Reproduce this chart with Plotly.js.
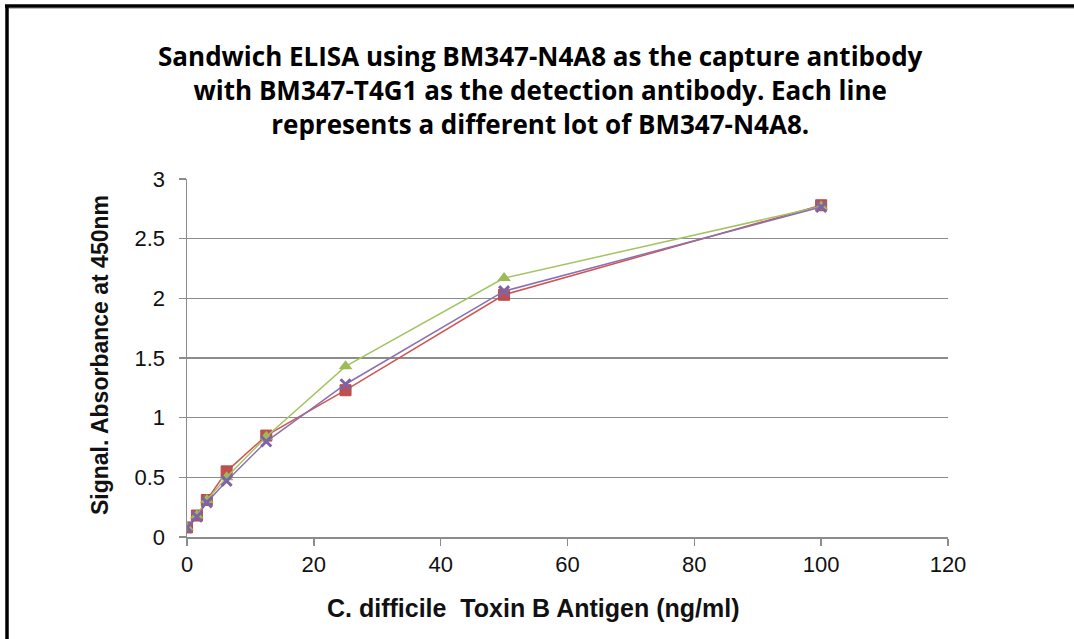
<!DOCTYPE html>
<html>
<head>
<meta charset="utf-8">
<script src="https://cdn.plot.ly/plotly-3.0.1.min.js"></script>
<style>html,body{margin:0;padding:0;background:#fff;}#chart{width:1074px;height:639px;}</style>
</head>
<body>
<div id="chart"></div>
<script>
const concentrations = [0, 1.5625, 3.125, 6.25, 12.5, 25, 50, 100];
const lotA = [0.08, 0.18, 0.31, 0.55, 0.85, 1.23, 2.03, 2.78];
const lotB = [0.08, 0.18, 0.31, 0.50, 0.84, 1.43, 2.17, 2.77];
const lotC = [0.08, 0.17, 0.29, 0.47, 0.80, 1.28, 2.06, 2.765];
const seriesNames = ["Lot 1", "Lot 2", "Lot 3"];
const xTicks = [0, 20, 40, 60, 80, 100, 120];
const yTicks = [0, 0.5, 1, 1.5, 2, 2.5, 3];

const traces = [
  {x: concentrations, y: lotA, name: seriesNames[0], mode: 'lines+markers',
   line: {color: '#D05552', width: 1.5},
   marker: {symbol: 'square', size: 11, color: '#C0504D', line: {color: '#B84A47', width: 1}}},
  {x: concentrations, y: lotB, name: seriesNames[1], mode: 'lines+markers',
   line: {color: '#A4C463', width: 1.5},
   marker: {symbol: 'triangle-up', size: 12, color: '#9BBB59'}},
  {x: concentrations, y: lotC, name: seriesNames[2], mode: 'lines+markers',
   line: {color: '#8A70AE', width: 1.5},
   marker: {symbol: 'x-thin', size: 10, color: '#7E63A8', line: {color: '#7E63A8', width: 3}}}
];

const layout = {
  width: 1074, height: 639,
  margin: {l: 187, r: 126, t: 179, b: 102},
  paper_bgcolor: '#ffffff', plot_bgcolor: '#ffffff',
  showlegend: false,
  title: {
    text: 'Sandwich ELISA using BM347-N4A8 as the capture antibody<br>with BM347-T4G1 as the detection antibody. Each line<br>represents a different lot of BM347-N4A8.',
    font: {family: '"Open Sans", Lato, sans-serif', size: 26, color: '#000', weight: 'bold'},
    x: 0.503, xref: 'container', xanchor: 'center',
    y: 0.896, yref: 'container', yanchor: 'top'
  },
  xaxis: {
    range: [0, 120], tickvals: xTicks, ticktext: xTicks.map(String),
    showgrid: false, zeroline: false,
    showline: true, linecolor: '#8C8C8C', linewidth: 1.5,
    ticks: 'outside', ticklen: 7, tickcolor: '#8C8C8C', tickwidth: 1.5,
    ticklabelstandoff: 0,
    tickfont: {family: 'Arial, "Liberation Sans", sans-serif', size: 22, color: '#111'}
  },
  yaxis: {
    range: [0, 3], tickvals: yTicks, ticktext: yTicks.map(String),
    showgrid: true, gridcolor: '#8C8C8C', gridwidth: 1.5,
    zeroline: false,
    showline: true, linecolor: '#8C8C8C', linewidth: 1.5,
    ticks: 'outside', ticklen: 7, tickcolor: '#8C8C8C', tickwidth: 1.5,
    ticklabelstandoff: 9,
    tickfont: {family: 'Arial, "Liberation Sans", sans-serif', size: 22, color: '#111'}
  },
  annotations: [
    {text: '<b>C. difficile  Toxin B Antigen (ng/ml)</b>', xref: 'paper', yref: 'paper',
     x: (533 - 187) / 761, y: -(608 - 537) / 358, xanchor: 'center', yanchor: 'middle', showarrow: false,
     font: {family: 'Arial, "Liberation Sans", sans-serif', size: 25, color: '#111'}},
    {text: '<b>Signal. Absorbance at 450nm</b>', xref: 'paper', yref: 'paper',
     x: -(187 - 100) / 761, y: (537 - 355) / 358, xanchor: 'center', yanchor: 'middle', textangle: -90, showarrow: false,
     font: {family: 'Arial, "Liberation Sans", sans-serif', size: 23, color: '#111'}}
  ],
  shapes: [
    {type: 'line', xref: 'paper', yref: 'paper',
     x0: (7 - 187) / 761, x1: (7 - 187) / 761, y0: (537 - 6) / 358, y1: (537 - 700) / 358,
     line: {color: '#000', width: 3.5}},
    {type: 'line', xref: 'paper', yref: 'paper',
     x0: (5 - 187) / 761, x1: (1100 - 187) / 761, y0: (537 - 6) / 358, y1: (537 - 6) / 358,
     line: {color: '#000', width: 3.5}},
    {type: 'line', xref: 'paper', yref: 'paper',
     x0: (9 - 187) / 761, x1: (1100 - 187) / 761, y0: (537 - 8.5) / 358, y1: (537 - 8.5) / 358,
     line: {color: '#BBBBBB', width: 1}}
  ]
};

Plotly.newPlot('chart', traces, layout, {displayModeBar: false, staticPlot: true});
</script>
</body>
</html>
